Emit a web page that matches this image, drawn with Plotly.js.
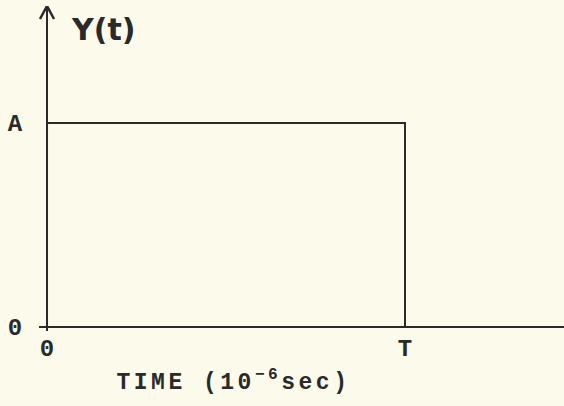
<!DOCTYPE html>
<html>
<head>
<meta charset="utf-8">
<script src="https://cdn.plot.ly/plotly-3.0.1.min.js"></script>
<style>
  html, body { margin: 0; padding: 0; background: #fcfaea; }
  #chart { width: 564px; height: 406px; }
  .annotation[data-index="0"] text { letter-spacing: 3.5px; }
</style>
</head>
<body>
<div id="chart"></div>
<script>
// Rectangular pulse of height A lasting from t = 0 to t = T
const A = 1;
const T = 1;
const pulseTime = [0, 0, T, T];
const pulseLevel = [0, A, A, 0];
const xTickVals = [0, T];
const xTickText = ['0', 'T'];
const yTickVals = [0, A];
const yTickText = ['0', 'A'];

const ink = '#2a2a2a';
const paper = '#fcfaea';
const typeFont = 'Liberation Mono, DejaVu Sans Mono, monospace';

// plot box in pixels
const mL = 39, mR = 0, mT = 6, mB = 75;
const plotW = 564 - mL - mR, plotH = 406 - mT - mB;

// axis extents (data units)
const xRange = [-0.0224, 1.4441];
const yRange = [-0.0196, 1.5735];

// size of the arrow head on the vertical axis, converted from pixels
const pxX = (xRange[1] - xRange[0]) / plotW;
const pxY = (yRange[1] - yRange[0]) / plotH;
const headX = [-7 * pxX, 0, 7 * pxX];
const headY = [yRange[1] - 13 * pxY, yRange[1], yRange[1] - 13 * pxY];

const traces = [
  {
    x: pulseTime, y: pulseLevel, type: 'scatter', mode: 'lines',
    line: { color: ink, width: 2 }, hoverinfo: 'skip', cliponaxis: false
  },
  {
    x: headX, y: headY, type: 'scatter', mode: 'lines',
    line: { color: ink, width: 2.5 }, hoverinfo: 'skip', cliponaxis: false
  }
];

const layout = {
  width: 564, height: 406,
  margin: { l: mL, r: mR, t: mT, b: mB },
  paper_bgcolor: paper, plot_bgcolor: paper,
  showlegend: false,
  font: { family: typeFont, color: ink },
  xaxis: {
    range: xRange, showgrid: false, showline: false,
    zeroline: true, zerolinecolor: ink, zerolinewidth: 2,
    tickmode: 'array', tickvals: xTickVals, ticktext: xTickText,
    ticks: '', ticklen: 0,
    tickfont: { family: typeFont, size: 24, color: ink, weight: 'bold' }
  },
  yaxis: {
    range: yRange, showgrid: false, showline: false,
    zeroline: true, zerolinecolor: ink, zerolinewidth: 2,
    tickmode: 'array', tickvals: yTickVals, ticktext: yTickText,
    ticks: 'outside', ticklen: 11, tickcolor: 'rgba(0,0,0,0)',
    tickfont: { family: typeFont, size: 24, color: ink, weight: 'bold' }
  },
  annotations: [
    {
      text: 'TIME (10<sup>−6</sup>sec)',
      xref: 'paper', yref: 'paper',
      x: (233 - mL) / plotW, y: -(381 - (406 - mB)) / plotH,
      xanchor: 'center', yanchor: 'middle', showarrow: false,
      font: { family: typeFont, size: 23, color: ink, weight: 'bold' }
    },
    {
      text: 'Y(t)',
      xref: 'paper', yref: 'paper',
      x: (69 - mL) / plotW, y: 1 - (29 - mT) / plotH,
      xanchor: 'left', yanchor: 'middle', showarrow: false,
      font: { family: 'DejaVu Sans, sans-serif', size: 30, color: ink, weight: 'bold' }
    }
  ]
};

Plotly.newPlot('chart', traces, layout, { staticPlot: true, displayModeBar: false });
</script>
</body>
</html>
